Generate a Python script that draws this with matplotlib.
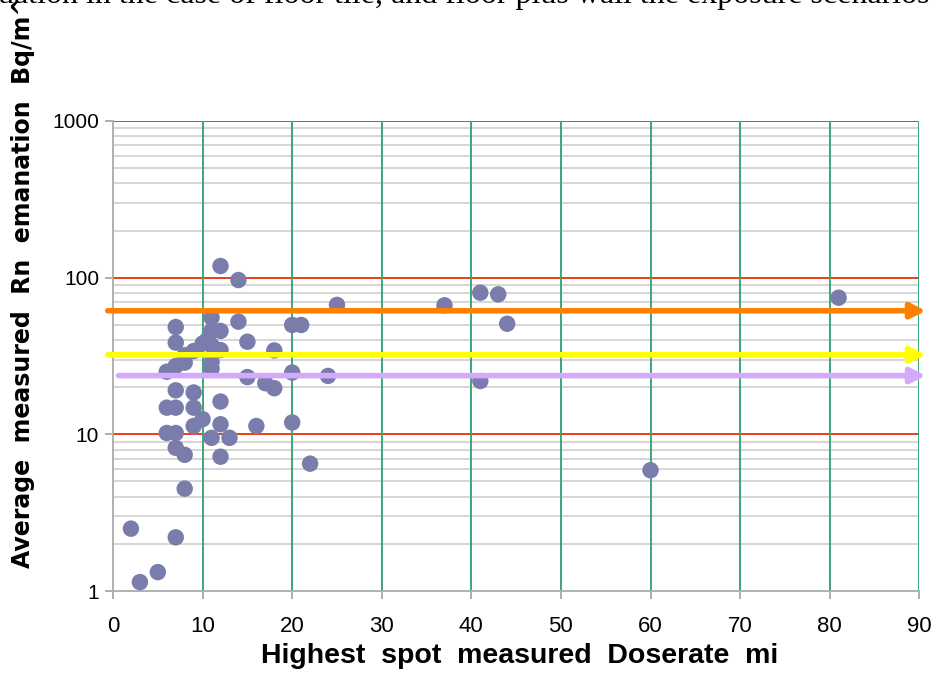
import numpy as np
import matplotlib.pyplot as plt
from matplotlib.ticker import FixedLocator, NullFormatter

# 数据: 最高点剂量率 vs 平均氡析出率
dose = [2, 3, 5, 7, 8,
        8, 7, 12, 22,
        6, 7, 11, 13,
        9, 12, 16, 20, 10,
        6, 7, 9, 12,
        9, 7, 18, 17, 41,
        15, 24, 20, 6,
        7, 8, 11, 11,
        8, 9, 12, 18,
        10, 11, 7, 15, 10.5,
        11, 12, 7, 20, 21, 14, 44,
        11, 25, 37, 43, 41, 81, 14, 12, 60]
radon = [2.5, 1.14, 1.32, 2.2, 4.5,
         7.4, 8.2, 7.2, 6.5,
         10.2, 10.2, 9.5, 9.5,
         11.3, 11.6, 11.3, 11.9, 12.5,
         14.8, 14.8, 14.8, 16.2,
         18.5, 19.1, 19.7, 21.2, 21.9,
         23.2, 23.6, 24.8, 25.1,
         27.3, 28.7, 26.3, 29,
         32, 34, 34.5, 34.3,
         38, 37, 38.5, 39, 40,
         45.7, 45.7, 48.4, 49.9, 49.9, 52.4, 50.8,
         55.6, 67, 66.6, 78.3, 80.2, 74.5, 96.6, 118.7, 5.9]

# 暴露情景水平线
levels = [61.5, 32.2, 23.7]
level_colors = ['#ff7f00', '#ffff00', '#d4a8fa']
level_start = [-0.6, -0.6, 0.6]

xticks = [0, 10, 20, 30, 40, 50, 60, 70, 80, 90]
yticks = [1, 10, 100, 1000]

fig = plt.figure(figsize=(9.38, 6.79), dpi=100)
ax = fig.add_axes([0.1205, 0.1296, 0.8595, 0.6922])

ax.set_yscale('log')
ax.set_xlim(0, 90)
ax.set_ylim(1, 1000)

# 网格线
minor = [m * 10 ** d for d in range(0, 3) for m in range(2, 10)]
for v in minor:
    ax.axhline(v, color='#d6d6d6', lw=1.4, zorder=1)
for v in yticks[1:]:
    ax.axhline(v, color='#f03c14', lw=1.4, zorder=2)
for v in xticks[1:]:
    ax.axvline(v, color='#3aa67a', lw=1.4, zorder=2)

ax.yaxis.set_major_locator(FixedLocator(yticks))
ax.yaxis.set_minor_locator(FixedLocator(minor))
ax.yaxis.set_minor_formatter(NullFormatter())
ax.set_yticklabels([str(v) for v in yticks])
ax.set_xticks(xticks)
ax.set_xticklabels([str(v) for v in xticks])

for s in ['top', 'right']:
    ax.spines[s].set_visible(False)
for s in ['left', 'bottom']:
    ax.spines[s].set_color('#b0b0b0')
    ax.spines[s].set_linewidth(1.4)
ax.tick_params(axis='both', which='major', color='#a0a0a0', length=6, width=1.2)
ax.tick_params(axis='y', which='minor', length=0)
ax.tick_params(axis='y', labelsize=15, pad=4)
ax.tick_params(axis='x', labelsize=16, pad=12)
for t in ax.get_xticklabels() + ax.get_yticklabels():
    t.set_family(['Liberation Sans', 'DejaVu Sans'])

# 散点
ax.scatter(dose, radon, s=140, color='#7a7cab', edgecolors='none', zorder=3, clip_on=False)

# 箭头
for lv, c, x0 in zip(levels, level_colors, level_start):
    ax.annotate('', xy=(90.75, lv), xytext=(x0, lv),
                arrowprops=dict(arrowstyle='-|>', color=c, lw=4, mutation_scale=22,
                                shrinkA=0, shrinkB=0),
                annotation_clip=False, zorder=4)

# 坐标轴标签
fig.text(0.278, 0.023, 'Highest  spot  measured  Doserate  mi', fontsize=20.5,
         fontweight='bold', family=['Liberation Sans', 'DejaVu Sans'],
         ha='left', va='baseline')
fig.text(0.024, 0.163, 'Average  measured  Rn  emanation  Bq/m^2', fontsize=17,
         fontweight='bold', family=['DejaVu Sans'], rotation=90,
         ha='center', va='bottom')

# 顶部截断的正文
fig.text(-0.002, 0.995, 'uation in the case of floor tile, and floor plus wall the exposure scenarios',
         fontsize=23, family=['Liberation Serif', 'DejaVu Serif'], ha='left', va='baseline')

fig.savefig('out.png', dpi=100)
